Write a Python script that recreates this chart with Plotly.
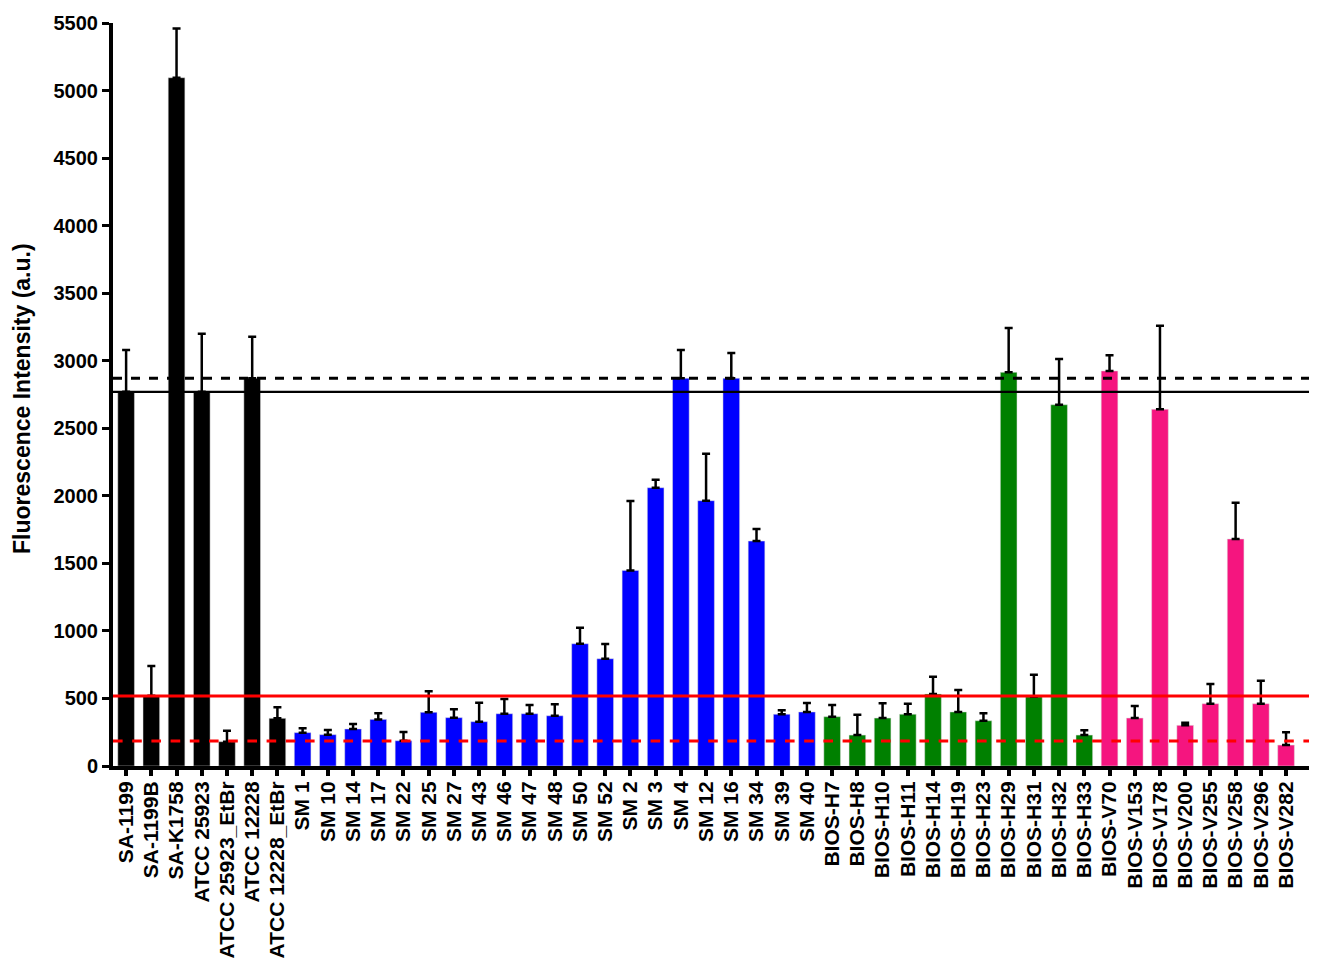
import plotly.graph_objects as go

# ---- data ----
black_labels = ["SA-1199", "SA-1199B", "SA-K1758", "ATCC 25923", "ATCC 25923_EtBr", "ATCC 12228", "ATCC 12228_EtBr"]
black_values = [2770, 520, 5095, 2770, 180, 2870, 353]
black_err = [310, 220, 365, 430, 81, 308, 81]

blue_labels = ["SM 1", "SM 10", "SM 14", "SM 17", "SM 22", "SM 25", "SM 27", "SM 43", "SM 46", "SM 47", "SM 48",
               "SM 50", "SM 52", "SM 2", "SM 3", "SM 4", "SM 12", "SM 16", "SM 34", "SM 39", "SM 40"]
blue_values = [247, 232, 274, 345, 187, 397, 358, 328, 387, 387, 372,
               905, 794, 1448, 2060, 2870, 1964, 2870, 1665, 383, 400]
blue_err = [32, 34, 37, 45, 65, 156, 62, 141, 109, 64, 85,
            119, 109, 513, 59, 210, 348, 187, 89, 29, 66]

green_labels = ["BIOS-H7", "BIOS-H8", "BIOS-H10", "BIOS-H11", "BIOS-H14", "BIOS-H19", "BIOS-H23",
                "BIOS-H29", "BIOS-H31", "BIOS-H32", "BIOS-H33"]
green_values = [365, 229, 355, 383, 533, 400, 335, 2914, 513, 2674, 229]
green_err = [86, 151, 109, 78, 128, 163, 55, 328, 163, 339, 35]

pink_labels = ["BIOS-V70", "BIOS-V153", "BIOS-V178", "BIOS-V200", "BIOS-V255", "BIOS-V258", "BIOS-V296", "BIOS-V282"]
pink_values = [2924, 355, 2640, 301, 461, 1680, 461, 155]
pink_err = [116, 89, 619, 19, 146, 269, 170, 94]

ref_black_solid = 2770
ref_black_dashed = 2870
ref_red_solid = 518
ref_red_dashed = 185

y_ticks = list(range(0, 5501, 500))
y_title = "Fluorescence Intensity (a.u.)"

groups = [
    (black_labels, black_values, black_err, "#000000"),
    (blue_labels, blue_values, blue_err, "#0000FF"),
    (green_labels, green_values, green_err, "#008000"),
    (pink_labels, pink_values, pink_err, "#F5157F"),
]

all_labels = []
fig = go.Figure()
start = 0
for labels, vals, errs, col in groups:
    xs = list(range(start, start + len(labels)))
    start += len(labels)
    all_labels += labels
    fig.add_trace(go.Bar(
        x=xs, y=vals, width=0.66,
        marker=dict(color=col, line=dict(color="#dddddd", width=0.5)),
        error_y=dict(type="data", symmetric=False, array=errs, arrayminus=[0] * len(errs),
                     color="#000000", thickness=2.5, width=4),
        showlegend=False,
    ))

font_family = "Liberation Sans, Arial, sans-serif"

# page body has an 8px default margin, so the figure is sized/offset to compensate
fig.update_layout(
    width=1309, height=953,
    margin=dict(l=105, r=7, t=15, b=195),
    plot_bgcolor="white", paper_bgcolor="white",
    bargap=0.34,
    xaxis=dict(
        automargin=False,
        range=[-0.52, 46.95],
        tickmode="array", tickvals=list(range(len(all_labels))), ticktext=all_labels,
        tickangle=-90,
        tickfont=dict(family=font_family, size=21, color="black", weight="bold"),
        ticks="outside", ticklen=6, tickwidth=4, tickcolor="black",
        ticklabelstandoff=-3,
        showline=True, linewidth=4, linecolor="black",
        showgrid=False, zeroline=False,
    ),
    yaxis=dict(
        automargin=False,
        range=[0, 5500],
        tickmode="array", tickvals=y_ticks, ticktext=[str(v) for v in y_ticks],
        tickfont=dict(family=font_family, size=20, color="black", weight="bold"),
        ticks="outside", ticklen=7, tickwidth=3, tickcolor="black",
        showline=True, linewidth=4, linecolor="black",
        showgrid=False, zeroline=False,
    ),
)

fig.add_annotation(
    text=y_title, xref="paper", yref="paper", x=-0.076, y=0.494,
    xanchor="center", yanchor="middle", textangle=-90, showarrow=False,
    font=dict(family=font_family, size=23, color="black", weight="bold"),
)

line_specs = [
    (ref_black_solid, "black", 2.2, "solid"),
    (ref_black_dashed, "black", 3, "dash"),
    (ref_red_solid, "#FF0000", 3, "solid"),
    (ref_red_dashed, "#FF0000", 3.2, "dash"),
]
for yv, col, w, dash in line_specs:
    fig.add_shape(type="line", xref="paper", yref="y", x0=0, x1=1.006, y0=yv, y1=yv,
                  line=dict(color=col, width=w, dash=dash), layer="above")

fig.write_html("out.html")
